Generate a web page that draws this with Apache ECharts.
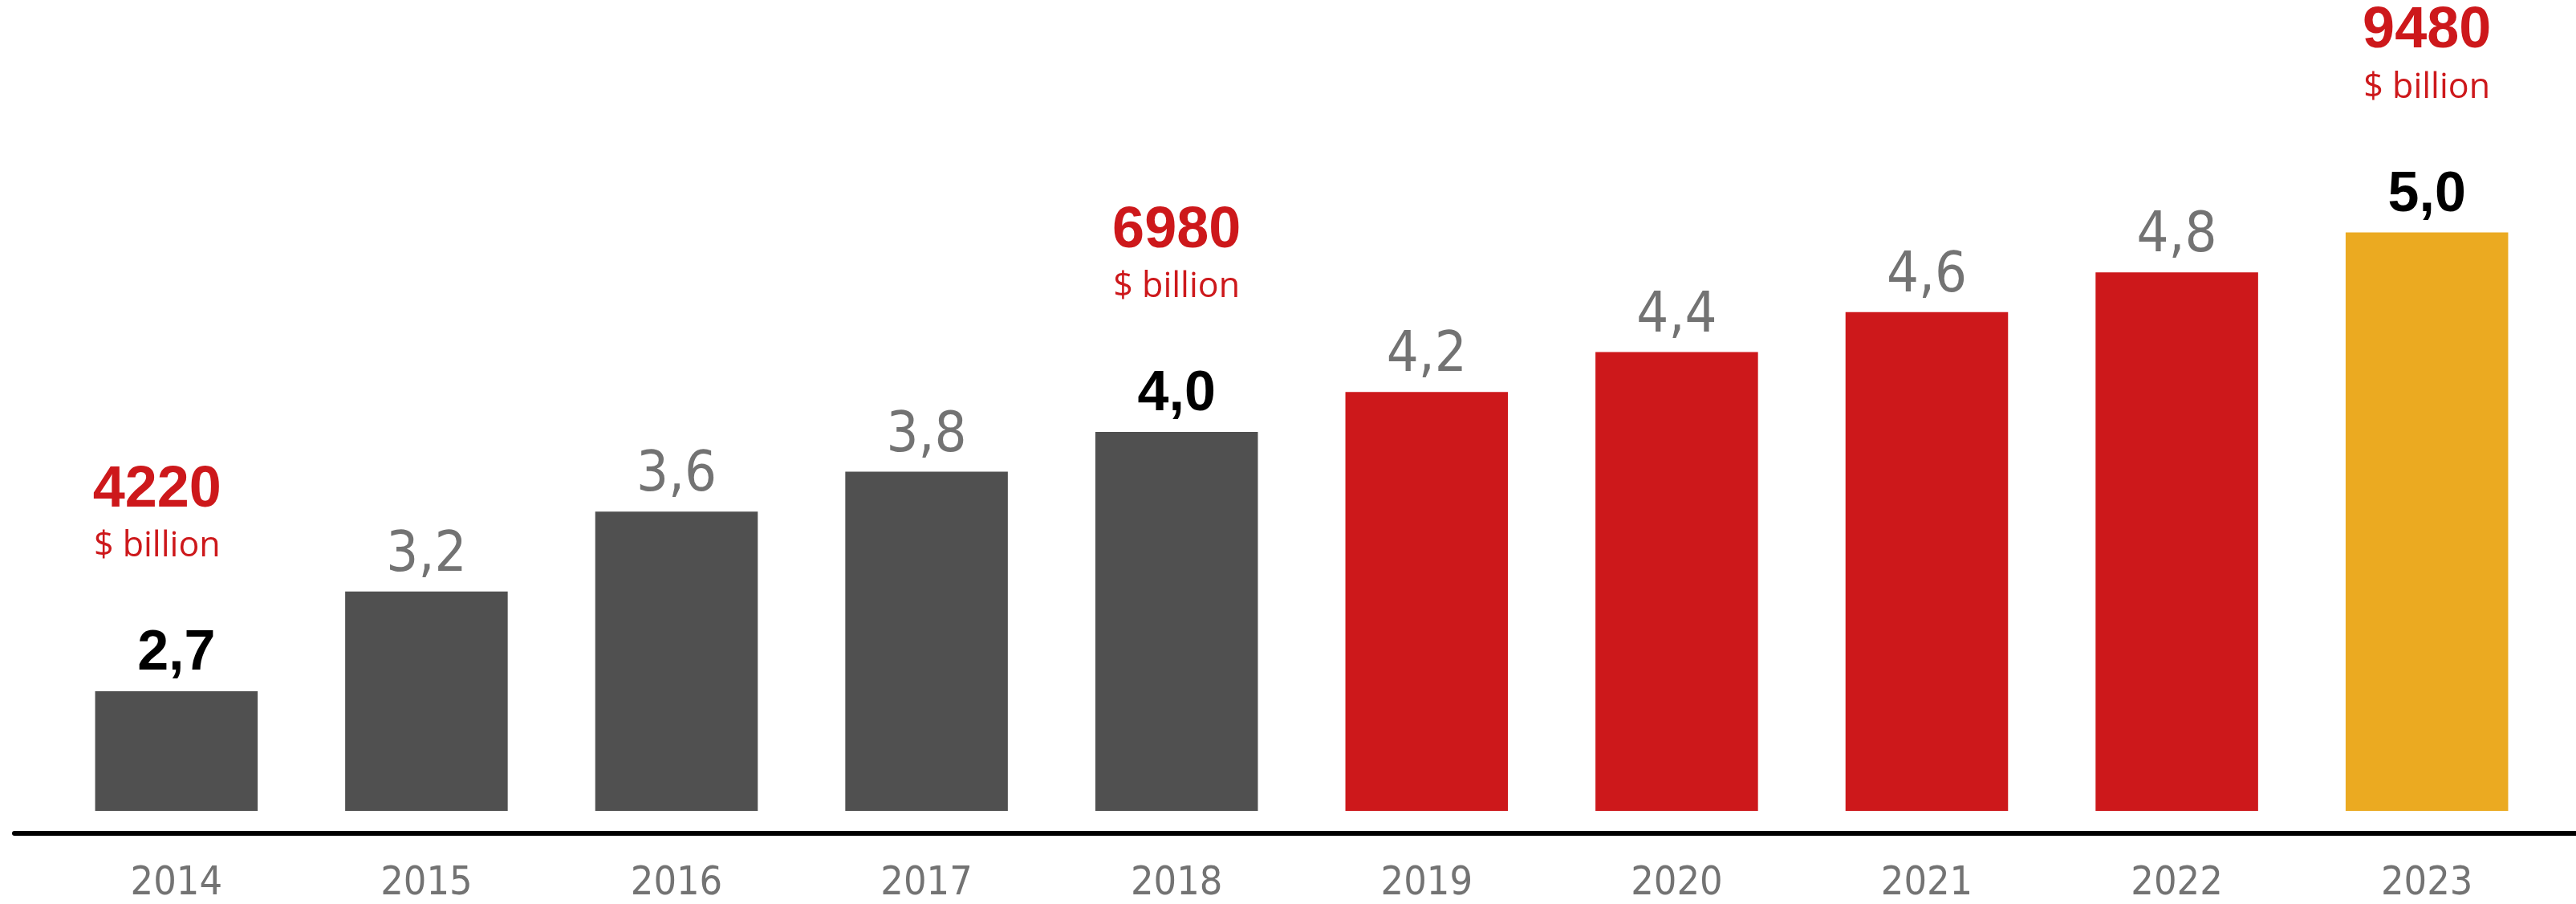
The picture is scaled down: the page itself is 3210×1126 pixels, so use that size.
<!DOCTYPE html>
<html>
<head>
<meta charset="utf-8">
<script src="https://cdn.jsdelivr.net/npm/echarts@6/dist/echarts.min.js"></script>
<style>html,body{margin:0;padding:0;background:#fff}#chart{width:3210px;height:1126px}</style>
</head>
<body>
<div id="chart"></div>
<script>
const years = ['2014','2015','2016','2017','2018','2019','2020','2021','2022','2023'];
const growthValues = [2.7, 3.2, 3.6, 3.8, 4.0, 4.2, 4.4, 4.6, 4.8, 5.0];
const periodOfYear = ['past','past','past','past','past','recent','recent','recent','recent','forecast'];
const highlightYears = ['2014','2018','2023'];
const marketSize = ['4220','6980','9480'];
const sizeUnit = '$ billion';

const periodColors = { past: '#505050', recent: '#CD181B', forecast: '#EBAA21' };
const fmt = v => Number(v).toFixed(1).replace('.', ',');
const condensed = "'DejaVu Sans Condensed', 'DejaVu Sans', sans-serif";

function richStyles(shift) {
  const pad = shift ? [0, shift, 0, 0] : 0;
  return {
    a: { fontFamily: 'Liberation Sans', fontWeight: 'bold', fontSize: 72, color: '#CD181B', lineHeight: 80, padding: pad },
    b: { fontFamily: "'Open Sans', sans-serif", fontSize: 43, color: '#CD181B', lineHeight: 60, padding: pad },
    sp: { fontSize: 10, lineHeight: 68 },
    c: { fontFamily: 'Liberation Sans', fontWeight: 'bold', fontSize: 70, color: '#000000', lineHeight: 72 }
  };
}

const barData = years.map((y, i) => {
  const item = { value: growthValues[i], itemStyle: { color: periodColors[periodOfYear[i]] } };
  const h = highlightYears.indexOf(y);
  if (h >= 0) {
    item.label = {
      distance: 10,
      formatter: '{a|' + marketSize[h] + '}\n{b|' + sizeUnit + '}\n{sp| }\n{c|' + fmt(growthValues[i]) + '}',
      rich: richStyles(h === 0 ? 48 : 0)
    };
  }
  return item;
});

const chart = echarts.init(document.getElementById('chart'));
chart.setOption({
  animation: false,
  backgroundColor: '#ffffff',
  grid: [
    { left: 64, right: 30, top: 41, bottom: 110 },
    { left: 18, right: 0, top: 56, bottom: 88 }
  ],
  xAxis: [
    {
      type: 'category', data: years, gridIndex: 0,
      axisLine: { show: false }, axisTick: { show: false },
      axisLabel: { color: '#737373', fontSize: 50, fontFamily: condensed, margin: 66 }
    },
    {
      type: 'value', gridIndex: 1, min: 0, max: 1,
      axisLine: { show: true, onZero: false, lineStyle: { color: '#000000', width: 6 } },
      axisTick: { show: false }, axisLabel: { show: false }, splitLine: { show: false }
    }
  ],
  yAxis: [
    { type: 'value', gridIndex: 0, min: 2.1, max: 6, show: false, splitLine: { show: false } },
    { type: 'value', gridIndex: 1, min: 0, max: 1, show: false, splitLine: { show: false } }
  ],
  series: [{
    type: 'bar',
    xAxisIndex: 0, yAxisIndex: 0,
    data: barData,
    barWidth: '65%',
    label: {
      show: true, position: 'top', distance: 9,
      color: '#737373', fontSize: 70, fontFamily: condensed,
      formatter: p => fmt(p.value)
    }
  }]
});
</script>
</body>
</html>
